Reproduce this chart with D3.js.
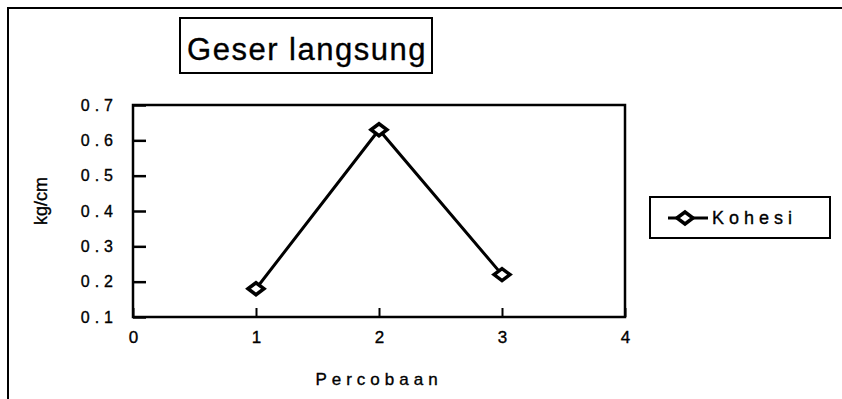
<!DOCTYPE html>
<html><head><meta charset="utf-8">
<script src="https://cdn.jsdelivr.net/npm/d3@7"></script>
<style>
html,body{margin:0;padding:0;background:#fff;}
svg{display:block;font-family:"Liberation Sans",Arial,sans-serif;}
svg text{stroke:#000;stroke-width:0.35px;}
</style></head>
<body>
<svg id="c" width="842" height="399"></svg>
<script>
const categories = [1, 2, 3];
const kohesi = [0.18, 0.63, 0.22];
const xTicks = [0, 1, 2, 3, 4];
const yTicks = [0.1, 0.2, 0.3, 0.4, 0.5, 0.6, 0.7];
const seriesName = "Kohesi";
const titleText = "Geser langsung";
const xLabel = "Percobaan";
const yLabel = "kg/cm";

const FONT = "'Liberation Sans',Arial,sans-serif";
const svg = d3.select("#c");
const plot = {left: 133, right: 625, top: 105, bottom: 317};
const x = d3.scaleLinear().domain([0, 4]).range([plot.left, plot.right]);
const y = d3.scaleLinear().domain([0.1, 0.7]).range([plot.bottom, plot.top]);

// outer chart border (top + left visible)
svg.append("path").attr("d", "M8,399 L8,8 L842,8")
  .attr("fill", "none").attr("stroke", "#000").attr("stroke-width", 2);

// title box
const tg = svg.append("g");
tg.append("rect").attr("x", 180).attr("y", 18).attr("width", 252).attr("height", 55)
  .attr("fill", "#fff").attr("stroke", "#000").attr("stroke-width", 2);
tg.append("text").attr("x", 307).attr("y", 60).attr("text-anchor", "middle")
  .attr("font-size", 31).attr("letter-spacing", 1.5).attr("font-family", FONT).text(titleText);

// plot box
svg.append("rect").attr("x", plot.left).attr("y", plot.top)
  .attr("width", plot.right - plot.left).attr("height", plot.bottom - plot.top)
  .attr("fill", "none").attr("stroke", "#000").attr("stroke-width", 2.5);

// y axis
const yAxis = d3.axisLeft(y).tickValues(yTicks).tickSize(-13).tickPadding(15)
  .tickFormat(d3.format(".1f"));
const gy = svg.append("g").attr("transform", `translate(${plot.left},0)`).call(yAxis);
gy.select(".domain").remove();
gy.selectAll(".tick line").attr("stroke", "#000").attr("stroke-width", 2.5);
gy.selectAll(".tick text").attr("font-size", 16).attr("letter-spacing", 5)
  .attr("fill", "#000").attr("font-family", FONT);

// x axis
const xAxis = d3.axisBottom(x).tickValues(xTicks).tickSize(-9).tickPadding(14)
  .tickFormat(d3.format("d"));
const gx = svg.append("g").attr("transform", `translate(0,${plot.bottom})`).call(xAxis);
gx.select(".domain").remove();
gx.selectAll(".tick line").attr("stroke", "#000").attr("stroke-width", 2);
gx.selectAll(".tick text").attr("font-size", 17)
  .attr("fill", "#000").attr("font-family", FONT);

// axis titles
svg.append("text").attr("x", plot.left + (plot.right - plot.left) / 2).attr("y", 385)
  .attr("text-anchor", "middle").attr("font-size", 17).attr("letter-spacing", 5)
  .attr("font-family", FONT).text(xLabel);
svg.append("text").attr("transform", `translate(47,${(plot.top + plot.bottom) / 2 - 10}) rotate(-90)`)
  .attr("text-anchor", "middle").attr("font-size", 18).attr("font-family", FONT).text(yLabel);

// series
const pts = categories.map((c, i) => [c, kohesi[i]]);
svg.append("path").datum(pts)
  .attr("d", d3.line().x(d => x(d[0])).y(d => y(d[1])))
  .attr("fill", "none").attr("stroke", "#000").attr("stroke-width", 3);

const marker = "M-8,0 L0,-6 L8,0 L0,6 Z";
svg.selectAll(".mk").data(pts).join("path").attr("class", "mk")
  .attr("transform", d => `translate(${x(d[0])},${y(d[1])})`)
  .attr("d", marker).attr("fill", "#fff").attr("stroke", "#000").attr("stroke-width", 3.5);

// legend
const lg = svg.append("g");
lg.append("rect").attr("x", 650).attr("y", 197).attr("width", 180).attr("height", 41)
  .attr("fill", "#fff").attr("stroke", "#000").attr("stroke-width", 2);
lg.append("line").attr("x1", 668).attr("x2", 708).attr("y1", 218).attr("y2", 218)
  .attr("stroke", "#000").attr("stroke-width", 3);
lg.append("path").attr("transform", "translate(685,218)").attr("d", marker)
  .attr("fill", "#fff").attr("stroke", "#000").attr("stroke-width", 3.5);
lg.append("text").attr("x", 712).attr("y", 224).attr("font-size", 18)
  .attr("letter-spacing", 5).attr("font-family", FONT).text(seriesName);
</script>
</body></html>
